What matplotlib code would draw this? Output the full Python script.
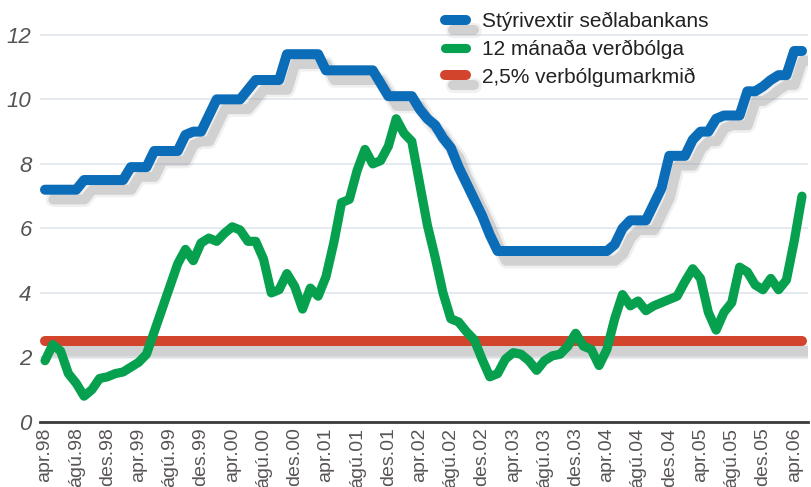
import numpy as np
import matplotlib
matplotlib.use('Agg')
from matplotlib import pyplot as plt
import matplotlib.patheffects as pe

plt.rcParams['font.family'] = ['Liberation Sans', 'DejaVu Sans']

# Labels every 4th month, starting apr.98
tick_labels = ['apr.98', 'ágú.98', 'des.98', 'apr.99', 'ágú.99', 'des.99',
               'apr.00', 'ágú.00', 'des.00', 'apr.01', 'ágú.01', 'des.01',
               'apr.02', 'ágú.02', 'des.02', 'apr.03', 'ágú.03', 'des.03',
               'apr.04', 'ágú.04', 'des.04', 'apr.05', 'ágú.05', 'des.05',
               'apr.06']

# Monthly values apr.98 - maí.06
styrivextir = [7.2, 7.2, 7.2, 7.2, 7.2, 7.5, 7.5, 7.5, 7.5, 7.5,
               7.5, 7.9, 7.9, 7.9, 8.4, 8.4, 8.4, 8.4, 8.9, 9.0,
               9.0, 9.5, 10.0, 10.0, 10.0, 10.0, 10.3, 10.6, 10.6, 10.6,
               10.6, 11.4, 11.4, 11.4, 11.4, 11.4, 10.9, 10.9, 10.9, 10.9,
               10.9, 10.9, 10.9, 10.5, 10.1, 10.1, 10.1, 10.1, 9.7, 9.4,
               9.2, 8.8, 8.5, 7.9, 7.4, 6.9, 6.4, 5.8, 5.3, 5.3,
               5.3, 5.3, 5.3, 5.3, 5.3, 5.3, 5.3, 5.3, 5.3, 5.3,
               5.3, 5.3, 5.3, 5.5, 6.0, 6.25, 6.25, 6.25, 6.75, 7.25,
               8.25, 8.25, 8.25, 8.75, 9.0, 9.0, 9.4, 9.5, 9.5, 9.5,
               10.25, 10.25, 10.4, 10.6, 10.75, 10.75, 11.5, 11.5]

verdbolga = [1.9, 2.4, 2.2, 1.5, 1.2, 0.8, 1.0, 1.35, 1.4, 1.5,
             1.55, 1.7, 1.85, 2.1, 2.8, 3.5, 4.2, 4.9, 5.35, 5.0,
             5.55, 5.7, 5.6, 5.85, 6.05, 5.95, 5.6, 5.6, 5.05, 4.0,
             4.1, 4.6, 4.2, 3.5, 4.15, 3.9, 4.5, 5.55, 6.8, 6.9,
             7.8, 8.45, 8.0, 8.1, 8.55, 9.4, 8.95, 8.7, 7.4, 6.1,
             5.1, 4.0, 3.2, 3.1, 2.8, 2.55, 1.95, 1.4, 1.5, 1.95,
             2.15, 2.1, 1.9, 1.6, 1.9, 2.05, 2.1, 2.35, 2.75, 2.35,
             2.25, 1.75, 2.25, 3.2, 3.95, 3.6, 3.75, 3.45, 3.6, 3.7,
             3.8, 3.9, 4.35, 4.75, 4.45, 3.4, 2.85, 3.4, 3.7, 4.8,
             4.65, 4.25, 4.1, 4.45, 4.1, 4.4, 5.6, 7.0]

markmid = 2.5

labels = ['Stýrivextir seðlabankans', '12 mánaða verðbólga', '2,5% verbólgumarkmið']
colors = ['#0b6cb8', '#06a04e', '#d2442c']

months = np.arange(len(styrivextir))

fig = plt.figure(figsize=(8.12, 4.87), dpi=100)
ax = fig.add_axes([40 / 812, 65 / 487, 768 / 812, 422 / 487])

# soft drop shadow like in the original
shadow = [pe.SimpleLineShadow(offset=(6, -7), shadow_color='#a0a0a0', alpha=0.15, linewidth=11),
          pe.SimpleLineShadow(offset=(6, -7), shadow_color='#8a8a8a', alpha=0.3),
          pe.Normal()]

ax.plot(months, styrivextir, color=colors[0], lw=7.2, solid_capstyle='round',
        solid_joinstyle='round', path_effects=shadow, label=labels[0], zorder=3)
ax.plot(months, verdbolga, color=colors[1], lw=6.6, solid_capstyle='round',
        solid_joinstyle='round', label=labels[1], zorder=4)
ax.plot(months, [markmid] * len(months), color=colors[2], lw=7.2, solid_capstyle='round',
        path_effects=shadow, label=labels[2], zorder=2)

ax.set_xlim(-0.64, 97.77)
ax.set_ylim(0, 13.08)

for y in range(2, 13, 2):
    ax.axhline(y, color='#e2e8ee', lw=1.3, zorder=0)

ax.set_yticks(range(0, 13, 2))
ax.set_yticklabels([str(v) for v in range(0, 13, 2)], fontsize=16, style='italic', color='#555555')
ax.set_xticks(np.arange(0, len(months), 4))
ax.set_xticklabels(tick_labels, rotation=90, fontsize=14, color='#5a5555')
ax.tick_params(axis='both', length=0)
ax.tick_params(axis='y', pad=6)
ax.tick_params(axis='x', pad=4)

for s in ['top', 'right', 'left']:
    ax.spines[s].set_visible(False)
ax.spines['bottom'].set_color('#3a3a3a')
ax.spines['bottom'].set_linewidth(2.0)

leg = fig.legend(loc='upper left', bbox_to_anchor=(445 / 812, 1 - 12 / 487), frameon=False,
                 fontsize=15, handlelength=1.0, handletextpad=0.8, labelspacing=0.4,
                 borderpad=0, borderaxespad=0)
for t in leg.get_texts():
    t.set_color('#222222')

fig.savefig('out.png', dpi=100)
